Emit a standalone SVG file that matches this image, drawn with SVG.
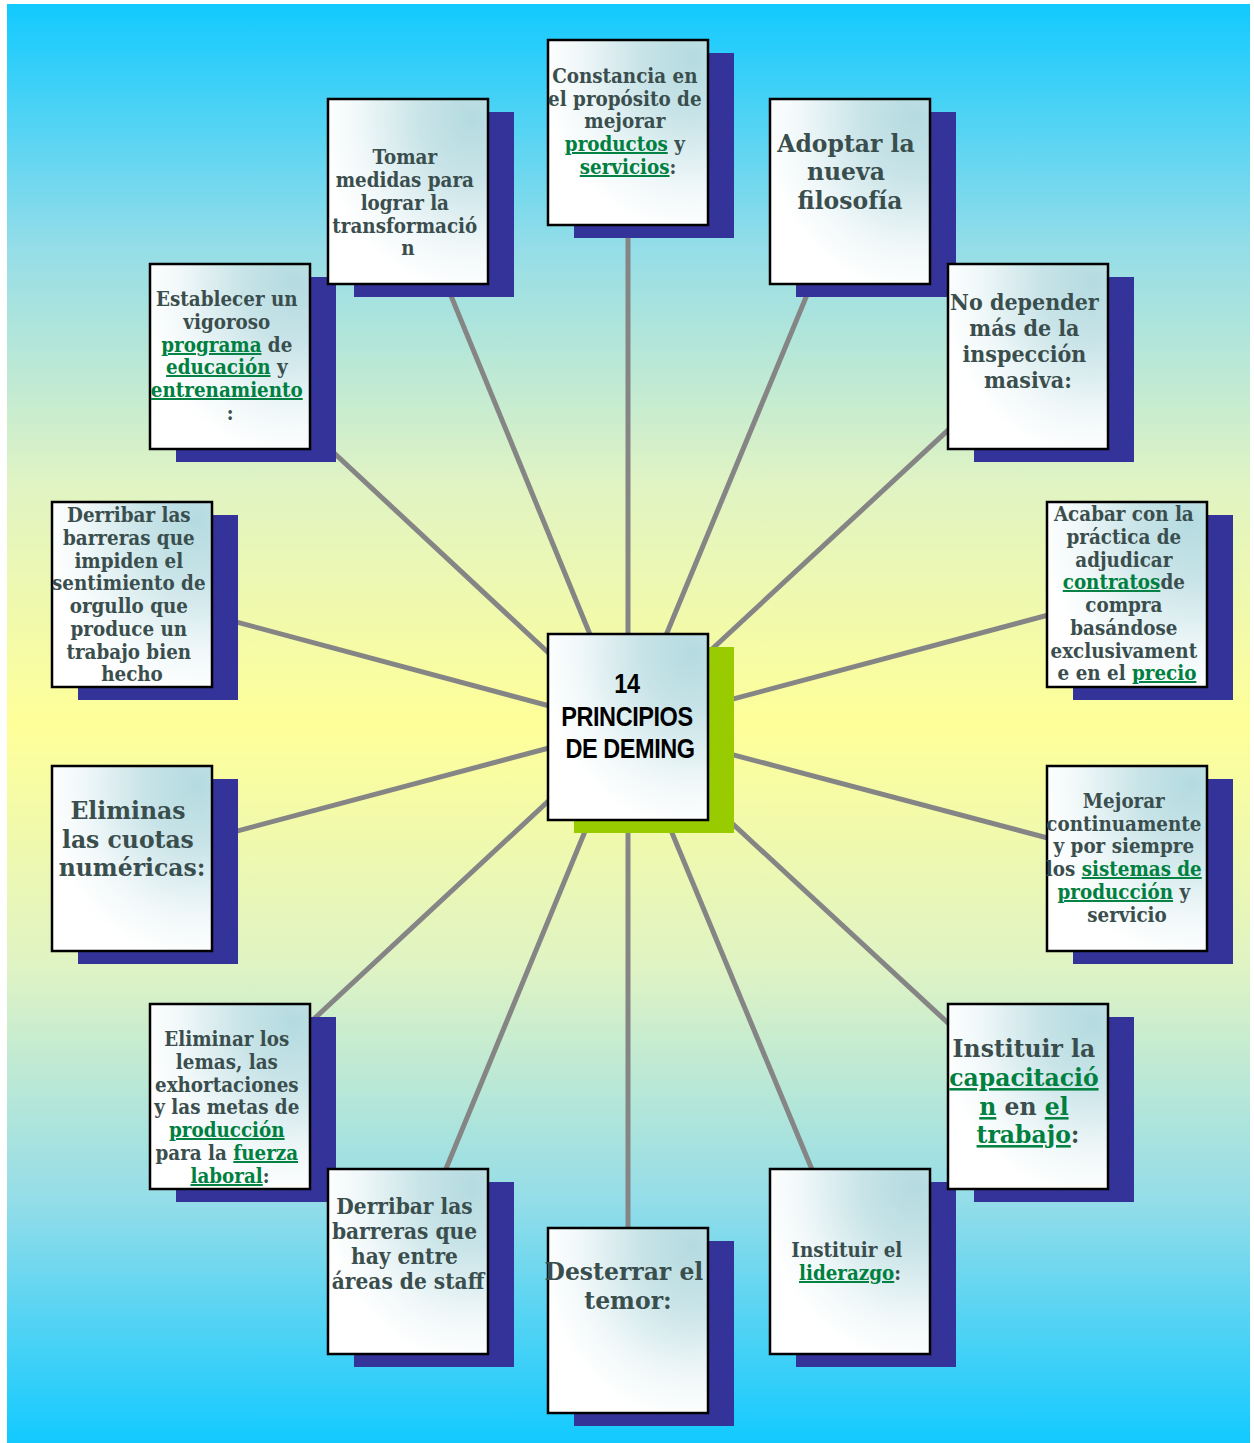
<svg xmlns="http://www.w3.org/2000/svg" width="1254" height="1443" viewBox="0 0 1254 1443">
  <defs>
    <linearGradient id="bg" x1="0" y1="0" x2="0" y2="1">
      <stop offset="0" stop-color="#12caff"/>
      <stop offset="0.17" stop-color="#95dde8"/>
      <stop offset="0.33" stop-color="#dff3c4"/>
      <stop offset="0.5" stop-color="#ffff99"/>
      <stop offset="0.67" stop-color="#dff3c4"/>
      <stop offset="0.83" stop-color="#95dde8"/>
      <stop offset="1" stop-color="#12caff"/>
    </linearGradient>
    <radialGradient id="card" cx="0.9" cy="0.1" r="0.95" fx="0.9" fy="0.1">
      <stop offset="0" stop-color="#b4dbe0"/>
      <stop offset="0.35" stop-color="#c9e4e8"/>
      <stop offset="0.75" stop-color="#f1f8f9"/>
      <stop offset="1" stop-color="#ffffff"/>
    </radialGradient>
    <style>
      .sh { fill: #333399; }
      .shg { fill: #99cc00; }
      .box { fill: url(#card); stroke: #000; stroke-width: 2.5; }
      .ln { stroke: #858585; stroke-width: 5; fill: none; }
      .t { font-family: "DejaVu Serif", "Liberation Serif", serif; font-weight: bold; fill: #3a4e4e; text-anchor: middle; font-size: 19.5px; }
      .t25 { font-size: 25px; }
      .t22 { font-size: 22px; }
      .t215 { font-size: 21.5px; }
      .l { fill: #008040; text-decoration: underline; }
      .c { font-family: "Liberation Sans", Arial, sans-serif; font-weight: bold; font-size: 27px; fill: #000; text-anchor: middle; letter-spacing: -0.5px; }
    </style>
  </defs>

  <rect x="7" y="4" width="1243" height="1439" fill="url(#bg)"/>

  <!-- spokes from the centre card to every principle -->
  <g id="connectors">
    <line class="ln" x1="628" y1="727" x2="628" y2="132"/>
    <line class="ln" x1="628" y1="727" x2="408" y2="191"/>
    <line class="ln" x1="628" y1="727" x2="850" y2="191"/>
    <line class="ln" x1="628" y1="727" x2="230" y2="356"/>
    <line class="ln" x1="628" y1="727" x2="1028" y2="356"/>
    <line class="ln" x1="628" y1="727" x2="132" y2="594"/>
    <line class="ln" x1="628" y1="727" x2="1127" y2="594"/>
    <line class="ln" x1="628" y1="727" x2="132" y2="859"/>
    <line class="ln" x1="628" y1="727" x2="1127" y2="859"/>
    <line class="ln" x1="628" y1="727" x2="230" y2="1097"/>
    <line class="ln" x1="628" y1="727" x2="1028" y2="1097"/>
    <line class="ln" x1="628" y1="727" x2="408" y2="1261"/>
    <line class="ln" x1="628" y1="727" x2="628" y2="1320"/>
    <line class="ln" x1="628" y1="727" x2="850" y2="1261"/>
  </g>

  <g id="n-establecer">
    <rect class="sh" x="176" y="277" width="160" height="185"/>
    <rect class="box" x="150" y="264" width="160" height="185"/>
    <text class="t" transform="translate(230 0) scale(0.94 1)">
      <tspan x="0" y="306">Establecer un</tspan>
      <tspan x="0" y="329">vigoroso</tspan>
      <tspan x="0" y="352"><tspan class="l">programa</tspan> de</tspan>
      <tspan x="0" y="374"><tspan class="l">educación</tspan> y</tspan>
      <tspan x="0" y="397" class="l">entrenamiento</tspan>
      <tspan x="0" y="420">:</tspan>
    </text>
  </g>

  <g id="n-tomar">
    <rect class="sh" x="354" y="112" width="160" height="185"/>
    <rect class="box" x="328" y="99" width="160" height="185"/>
    <text class="t" transform="translate(408 0) scale(0.94 1)">
      <tspan x="0" y="164">Tomar</tspan>
      <tspan x="0" y="187">medidas para</tspan>
      <tspan x="0" y="210">lograr la</tspan>
      <tspan x="0" y="233">transformació</tspan>
      <tspan x="0" y="255">n</tspan>
    </text>
  </g>

  <g id="n-constancia">
    <rect class="sh" x="574" y="53" width="160" height="185"/>
    <rect class="box" x="548" y="40" width="160" height="185"/>
    <text class="t" transform="translate(628 0) scale(0.94 1)">
      <tspan x="0" y="83">Constancia en</tspan>
      <tspan x="0" y="106">el propósito de</tspan>
      <tspan x="0" y="128">mejorar</tspan>
      <tspan x="0" y="151"><tspan class="l">productos</tspan> y</tspan>
      <tspan x="0" y="174"><tspan class="l">servicios</tspan>:</tspan>
    </text>
  </g>

  <g id="n-adoptar">
    <rect class="sh" x="796" y="112" width="160" height="185"/>
    <rect class="box" x="770" y="99" width="160" height="185"/>
    <text class="t t25" transform="translate(850 0) scale(0.94 1)">
      <tspan x="0" y="152">Adoptar la</tspan>
      <tspan x="0" y="180.5">nueva</tspan>
      <tspan x="0" y="209">filosofía</tspan>
    </text>
  </g>

  <g id="n-inspeccion">
    <rect class="sh" x="974" y="277" width="160" height="185"/>
    <rect class="box" x="948" y="264" width="160" height="185"/>
    <text class="t t22" transform="translate(1028 0) scale(0.94 1)">
      <tspan x="0" y="310">No depender</tspan>
      <tspan x="0" y="336">más de la</tspan>
      <tspan x="0" y="362">inspección</tspan>
      <tspan x="0" y="388">masiva:</tspan>
    </text>
  </g>

  <g id="n-orgullo">
    <rect class="sh" x="78" y="515" width="160" height="185"/>
    <rect class="box" x="52" y="502" width="160" height="185"/>
    <text class="t" transform="translate(132 0) scale(0.94 1)">
      <tspan x="0" y="522">Derribar las</tspan>
      <tspan x="0" y="545">barreras que</tspan>
      <tspan x="0" y="568">impiden el</tspan>
      <tspan x="0" y="590">sentimiento de</tspan>
      <tspan x="0" y="613">orgullo que</tspan>
      <tspan x="0" y="636">produce un</tspan>
      <tspan x="0" y="659">trabajo bien</tspan>
      <tspan x="0" y="681">hecho</tspan>
    </text>
  </g>

  <g id="n-contratos">
    <rect class="sh" x="1073" y="515" width="160" height="185"/>
    <rect class="box" x="1047" y="502" width="160" height="185"/>
    <text class="t" transform="translate(1127 0) scale(0.94 1)">
      <tspan x="0" y="521">Acabar con la</tspan>
      <tspan x="0" y="544">práctica de</tspan>
      <tspan x="0" y="567">adjudicar</tspan>
      <tspan x="0" y="589"><tspan class="l">contratos</tspan>de</tspan>
      <tspan x="0" y="612">compra</tspan>
      <tspan x="0" y="635">basándose</tspan>
      <tspan x="0" y="658">exclusivament</tspan>
      <tspan x="0" y="680">e en el <tspan class="l">precio</tspan></tspan>
    </text>
  </g>

  <g id="n-centro">
    <rect class="shg" x="574" y="647" width="160" height="186"/>
    <rect class="box" x="548" y="634" width="160" height="186"/>
    <text class="c" transform="translate(630 0) scale(0.87 1)">
      <tspan x="0" y="693">14</tspan>
      <tspan x="0" y="726">PRINCIPIOS</tspan>
      <tspan x="0" y="758">DE DEMING</tspan>
    </text>
  </g>

  <g id="n-cuotas">
    <rect class="sh" x="78" y="779" width="160" height="185"/>
    <rect class="box" x="52" y="766" width="160" height="185"/>
    <text class="t t25" transform="translate(132 0) scale(0.94 1)">
      <tspan x="0" y="819">Eliminas</tspan>
      <tspan x="0" y="848">las cuotas</tspan>
      <tspan x="0" y="876">numéricas:</tspan>
    </text>
  </g>

  <g id="n-mejorar">
    <rect class="sh" x="1073" y="779" width="160" height="185"/>
    <rect class="box" x="1047" y="766" width="160" height="185"/>
    <text class="t" transform="translate(1127 0) scale(0.94 1)">
      <tspan x="0" y="808">Mejorar</tspan>
      <tspan x="0" y="831">continuamente</tspan>
      <tspan x="0" y="853">y por siempre</tspan>
      <tspan x="0" y="876">los <tspan class="l">sistemas de</tspan></tspan>
      <tspan x="0" y="899"><tspan class="l">producción</tspan> y</tspan>
      <tspan x="0" y="922">servicio</tspan>
    </text>
  </g>

  <g id="n-lemas">
    <rect class="sh" x="176" y="1017" width="160" height="185"/>
    <rect class="box" x="150" y="1004" width="160" height="185"/>
    <text class="t" transform="translate(230 0) scale(0.94 1)">
      <tspan x="0" y="1046">Eliminar los</tspan>
      <tspan x="0" y="1069">lemas, las</tspan>
      <tspan x="0" y="1092">exhortaciones</tspan>
      <tspan x="0" y="1114">y las metas de</tspan>
      <tspan x="0" y="1137" class="l">producción</tspan>
      <tspan x="0" y="1160">para la <tspan class="l">fuerza</tspan></tspan>
      <tspan x="0" y="1183"><tspan class="l">laboral</tspan>:</tspan>
    </text>
  </g>

  <g id="n-staff">
    <rect class="sh" x="354" y="1182" width="160" height="185"/>
    <rect class="box" x="328" y="1169" width="160" height="185"/>
    <text class="t t215" transform="translate(408 0) scale(0.94 1)">
      <tspan x="0" y="1214">Derribar las</tspan>
      <tspan x="0" y="1239">barreras que</tspan>
      <tspan x="0" y="1264">hay entre</tspan>
      <tspan x="0" y="1289">áreas de staff</tspan>
    </text>
  </g>

  <g id="n-temor">
    <rect class="sh" x="574" y="1241" width="160" height="185"/>
    <rect class="box" x="548" y="1228" width="160" height="185"/>
    <text class="t t25" transform="translate(628 0) scale(0.94 1)">
      <tspan x="0" y="1280">Desterrar el</tspan>
      <tspan x="0" y="1309">temor:</tspan>
    </text>
  </g>

  <g id="n-liderazgo">
    <rect class="sh" x="796" y="1182" width="160" height="185"/>
    <rect class="box" x="770" y="1169" width="160" height="185"/>
    <text class="t" transform="translate(850 0) scale(0.94 1)">
      <tspan x="0" y="1257">Instituir el</tspan>
      <tspan x="0" y="1280"><tspan class="l">liderazgo</tspan>:</tspan>
    </text>
  </g>

  <g id="n-capacitacion">
    <rect class="sh" x="974" y="1017" width="160" height="185"/>
    <rect class="box" x="948" y="1004" width="160" height="185"/>
    <text class="t t25" transform="translate(1028 0) scale(0.94 1)">
      <tspan x="0" y="1057">Instituir la</tspan>
      <tspan x="0" y="1086" class="l">capacitació</tspan>
      <tspan x="0" y="1115"><tspan class="l">n</tspan> en <tspan class="l">el</tspan></tspan>
      <tspan x="0" y="1143"><tspan class="l">trabajo</tspan>:</tspan>
    </text>
  </g>
</svg>
